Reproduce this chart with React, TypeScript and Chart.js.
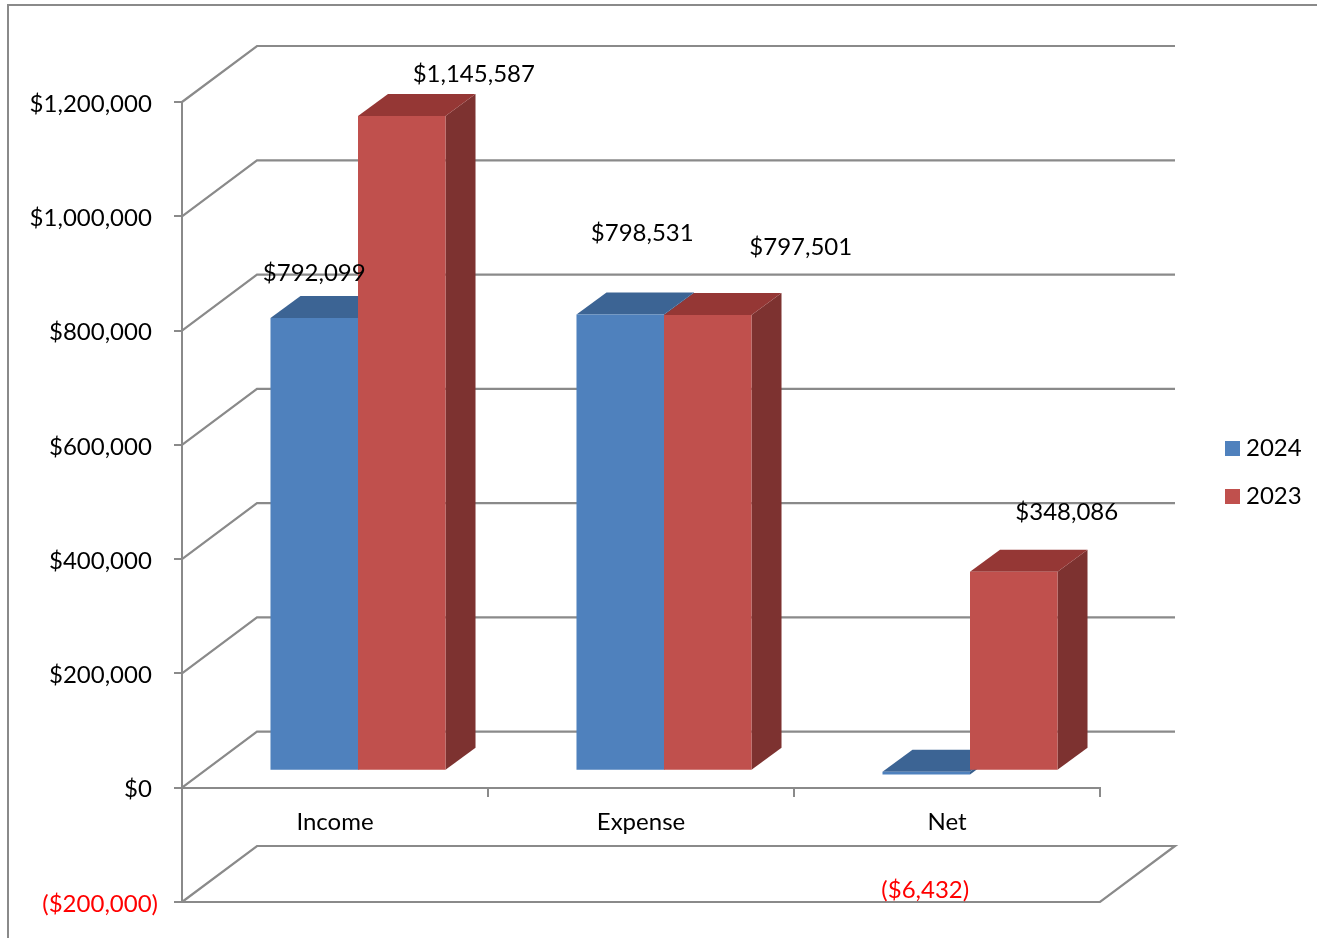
import React, { useEffect, useRef } from "react";
import { Chart, registerables } from "chart.js";

Chart.register(...registerables);

const categories = ["Income", "Expense", "Net"];
const seriesNames = ["2024", "2023"];
const values2024 = [792099, 798531, -6432];
const values2023 = [1145587, 797501, 348086];

const yMin = -200000;
const yMax = 1200000;
const yStep = 200000;

const FONT = "Lato";
const FONT_SIZE = 24;
const GRID = "#8a8a8a";

// Oblique offset of the back wall from the front plane of the plot.
const WALL = { dx: 75, dy: -56 };
// Bars stand part way into the floor, and have their own depth.
const BAR_SHIFT = { dx: 23, dy: -17 };
const BAR_DEPTH = { dx: 30, dy: -22 };

const faceColors = [
  { front: "#4F81BD", top: "#3C6494", side: "#375D8B" },
  { front: "#C0504D", top: "#953735", side: "#7D3230" },
];

// Where each value label sits, relative to the top centre of its bar's front face.
const labelOffsets = [
  [[0, -45], [22, -81], [-1, 119]],
  [[72, -42], [93, -68], [53, -60]],
];

const money = (v: number) => {
  const s = "$" + Math.abs(v).toLocaleString("en-US");
  return v < 0 ? `(${s})` : s;
};

const polygon = (ctx: CanvasRenderingContext2D, pts: number[][], fill: string) => {
  ctx.beginPath();
  pts.forEach(([x, y], i) => (i ? ctx.lineTo(x, y) : ctx.moveTo(x, y)));
  ctx.closePath();
  ctx.fillStyle = fill;
  ctx.fill();
};

// Back wall and floor lines of the oblique frame.
const drawWalls = (chart: any) => {
  const { ctx, chartArea, scales } = chart;
  const { left, right } = chartArea;
  ctx.save();
  ctx.strokeStyle = GRID;
  ctx.lineWidth = 2.2;
  scales.y.ticks.forEach((t: any) => {
    const y = scales.y.getPixelForValue(t.value);
    ctx.beginPath();
    ctx.moveTo(left, y);
    ctx.lineTo(left + WALL.dx, y + WALL.dy);
    ctx.lineTo(right + WALL.dx, y + WALL.dy);
    if (t.value === yMin) {
      ctx.lineTo(right, y);
      ctx.lineTo(left, y);
    }
    ctx.stroke();
  });
  ctx.restore();
};

// Depth faces of one dataset's bars; the caller has already shifted the context.
const drawDepth = (ctx: CanvasRenderingContext2D, meta: any, colors: any) => {
  meta.data.forEach((bar: any) => {
    const l = bar.x - bar.width / 2;
    const r = bar.x + bar.width / 2;
    const top = Math.min(bar.y, bar.base);
    const bottom = Math.max(bar.y, bar.base);
    const { dx, dy } = BAR_DEPTH;
    polygon(ctx, [[r, top], [r + dx, top + dy], [r + dx, bottom + dy], [r, bottom]], colors.side);
    polygon(ctx, [[l, top], [l + dx, top + dy], [r + dx, top + dy], [r, top]], colors.top);
  });
};

// Paints walls, then the datasets first to last so the later series overlaps the earlier one.
const scenePlugin = {
  id: "scene",
  beforeDatasetsDraw(chart: any) {
    const { ctx } = chart;
    drawWalls(chart);
    chart.data.datasets.forEach((_: any, di: number) => {
      const meta = chart.getDatasetMeta(di);
      ctx.save();
      ctx.translate(BAR_SHIFT.dx, BAR_SHIFT.dy);
      drawDepth(ctx, meta, faceColors[di]);
      meta.controller.draw();
      ctx.restore();
    });
    return false;
  },
};

// Value labels, legend and the outer frame of the chart.
const overlayPlugin = {
  id: "overlay",
  afterDraw(chart: any) {
    const { ctx } = chart;
    ctx.save();
    ctx.font = `${FONT_SIZE}px ${FONT}`;
    ctx.textAlign = "center";
    ctx.textBaseline = "middle";
    chart.data.datasets.forEach((ds: any, di: number) => {
      chart.getDatasetMeta(di).data.forEach((bar: any, i: number) => {
        const v = ds.data[i];
        const [ox, oy] = labelOffsets[di][i];
        ctx.fillStyle = v < 0 ? "#FF0000" : "#000000";
        ctx.fillText(money(v), bar.x + BAR_SHIFT.dx + ox, Math.min(bar.y, bar.base) + BAR_SHIFT.dy + oy);
      });
    });

    ctx.textAlign = "left";
    chart.data.datasets.forEach((ds: any, di: number) => {
      const y = 448 + di * 48;
      ctx.fillStyle = ds.backgroundColor;
      ctx.fillRect(1225, y - 7, 15, 15);
      ctx.fillStyle = "#000000";
      ctx.fillText(ds.label, 1246, y);
    });

    ctx.strokeStyle = GRID;
    ctx.lineWidth = 2;
    ctx.beginPath();
    ctx.moveTo(8, chart.height);
    ctx.lineTo(8, 5);
    ctx.lineTo(chart.width, 5);
    ctx.stroke();
    ctx.restore();
  },
};

export default function App() {
  const ref = useRef<HTMLCanvasElement | null>(null);

  useEffect(() => {
    const chart = new Chart(ref.current as HTMLCanvasElement, {
      type: "bar",
      data: {
        labels: categories,
        datasets: [
          { label: seriesNames[0], data: values2024, backgroundColor: faceColors[0].front },
          { label: seriesNames[1], data: values2023, backgroundColor: faceColors[1].front },
        ],
      },
      options: {
        responsive: false,
        animation: false,
        layout: { padding: { left: 0, top: 102, right: 217, bottom: 36 } },
        plugins: { legend: { display: false }, title: { display: false }, tooltip: { enabled: false } },
        datasets: { bar: { categoryPercentage: 0.572, barPercentage: 1 } },
        scales: {
          x: {
            position: { y: 0 },
            grid: { offset: true, drawOnChartArea: false, color: GRID, lineWidth: 2, tickLength: 8 },
            border: { color: GRID, width: 2 },
            ticks: { color: "#000000", font: { family: FONT, size: FONT_SIZE }, padding: 12, maxRotation: 0 },
            afterFit: (s: any) => {
              s.height = 0;
            },
          },
          y: {
            min: yMin,
            max: yMax,
            grid: { drawOnChartArea: false, color: GRID, lineWidth: 2, tickLength: 8 },
            border: { color: GRID, width: 2 },
            ticks: {
              stepSize: yStep,
              padding: 16,
              labelOffset: 2,
              font: { family: FONT, size: FONT_SIZE },
              color: (c: any) => (c.tick.value < 0 ? "#FF0000" : "#000000"),
              // Positive labels leave room for the closing bracket of the negative format.
              callback: (v: any) => (v < 0 ? money(v) : money(v) + " "),
            },
            afterFit: (s: any) => {
              s.width = 182;
            },
          },
        },
      },
      plugins: [scenePlugin, overlayPlugin],
    } as any);
    return () => chart.destroy();
  }, []);

  return (
    <canvas
      ref={ref}
      width={1317}
      height={938}
      style={{ position: "absolute", left: 0, top: 0, display: "block" }}
    />
  );
}
